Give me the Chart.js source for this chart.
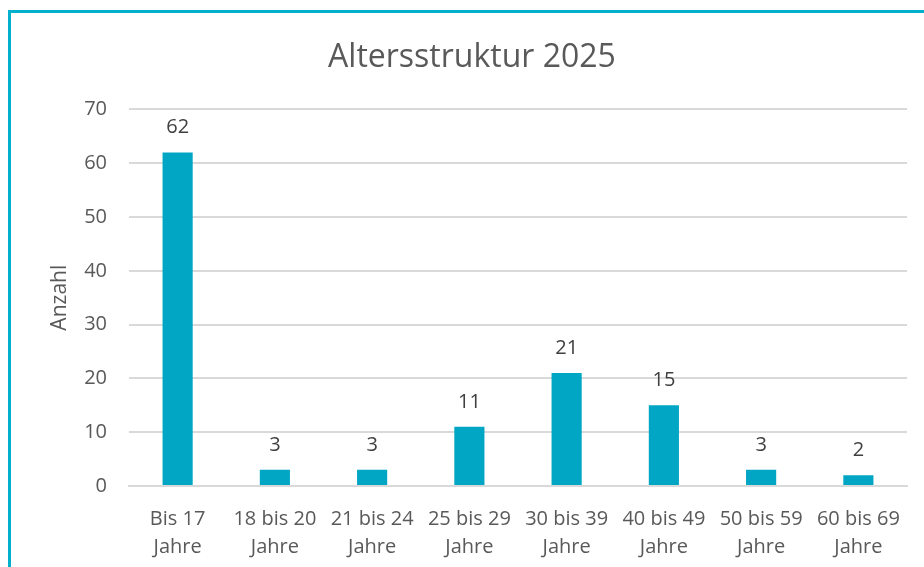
<!DOCTYPE html>
<html>
<head>
<meta charset="utf-8">
<script src="https://cdn.jsdelivr.net/npm/chart.js@4"></script>
<style>
    html, body { margin: 0; padding: 0; background: #fff; overflow: hidden; }
    #frame {
        position: absolute; left: 8px; top: 10px; width: 1000px; height: 1000px;
        border: 3px solid #00b0cc; box-sizing: border-box;
    }
    #wrap { position: absolute; left: 0; top: 0; width: 924px; height: 567px; }
</style>
</head>
<body>
<div id="frame"></div>
<div id="wrap"><canvas id="chart" width="924" height="567"></canvas></div>
<script>
// Daten
const categories = [
    ["Bis 17", "Jahre"], ["18 bis 20", "Jahre"], ["21 bis 24", "Jahre"], ["25 bis 29", "Jahre"],
    ["30 bis 39", "Jahre"], ["40 bis 49", "Jahre"], ["50 bis 59", "Jahre"], ["60 bis 69", "Jahre"]
];
const anzahl = [62, 3, 3, 11, 21, 15, 3, 2];
const yTicks = [0, 10, 20, 30, 40, 50, 60, 70];

const FONT = "'Open Sans', sans-serif";
const GREY = "#595959";

// Werte über den Balken
const valueLabels = {
    id: "valueLabels",
    afterDatasetsDraw(chart) {
        const ctx = chart.ctx;
        const meta = chart.getDatasetMeta(0);
        ctx.save();
        ctx.font = "20px " + FONT;
        ctx.fillStyle = "#404040";
        ctx.textAlign = "center";
        ctx.textBaseline = "middle";
        meta.data.forEach((bar, i) => {
            ctx.fillText(String(anzahl[i]), bar.x, bar.y - 25);
        });
        ctx.restore();
    }
};

new Chart(document.getElementById("chart").getContext("2d"), {
    type: "bar",
    data: {
        labels: categories,
        datasets: [{
            label: "Anzahl",
            data: anzahl,
            backgroundColor: "#00a6c4",
            barPercentage: 0.62,
            categoryPercentage: 0.5
        }]
    },
    options: {
        responsive: false,
        animation: false,
        layout: { padding: { left: 37, right: 17, top: 0, bottom: 0 } },
        plugins: {
            legend: { display: false },
            tooltip: { enabled: false },
            title: {
                display: true,
                text: "Altersstruktur 2025",
                color: GREY,
                font: { family: FONT, size: 32, weight: "normal", lineHeight: 1.2 },
                padding: { top: 39, bottom: 32 }
            }
        },
        scales: {
            x: {
                grid: { display: false },
                border: { color: "#d9d9d9", width: 2 },
                ticks: {
                    color: GREY,
                    font: { family: FONT, size: 20, lineHeight: 1.4 },
                    maxRotation: 0,
                    autoSkip: false,
                    padding: 11
                },
                afterFit: s => { s.height = 81; }
            },
            y: {
                min: 0,
                max: 70,
                afterBuildTicks: s => { s.ticks = yTicks.map(v => ({ value: v })); },
                grid: { color: "#d9d9d9", lineWidth: 2, drawTicks: false },
                border: { display: false },
                ticks: {
                    color: GREY,
                    font: { family: FONT, size: 20 },
                    padding: 22
                },
                title: {
                    display: true,
                    text: "Anzahl",
                    color: GREY,
                    font: { family: FONT, size: 21, lineHeight: 1.2 },
                    padding: { top: 10, bottom: 0 }
                },
                afterFit: s => { s.width = 92; }
            }
        }
    },
    plugins: [valueLabels]
});
</script>
</body>
</html>
